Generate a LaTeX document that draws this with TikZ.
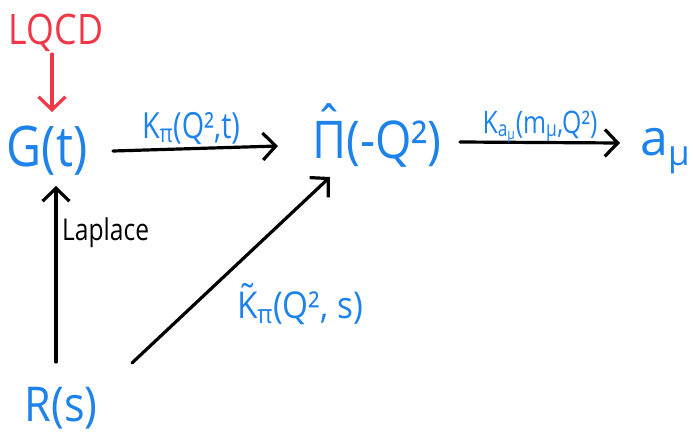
\documentclass[tikz,border=0pt]{standalone}
\usepackage{fontspec}
\usepackage{graphicx}
\setmainfont{Open Sans}
\usetikzlibrary{arrows.meta}
\definecolor{hblue}{RGB}{30,130,235}
\definecolor{hred}{RGB}{240,55,70}
\newcommand\accOver[3]{\leavevmode\setbox0\hbox{#2}\rlap{\hbox to\wd0{\hss\raisebox{#3}{#1}\hss}}#2}
\newcommand\sqz[2]{\scalebox{#1}[1]{#2}}
\tikzset{
  txt/.style={inner sep=0pt, anchor=base},
  bl/.style={txt, text=hblue},
  barb/.style={-{Straight Barb[length=13pt,width=27pt,line width=3.2pt]}},
  harrow/.style={draw=black, line width=3.2pt, line cap=round, barb},
  rarrow/.style={draw=hred, line width=3.2pt, line cap=round, barb}
}
\begin{document}
\begin{tikzpicture}[x=1pt,y=-1pt]
\useasboundingbox[fill=white] (0,0) rectangle (693,434);
\node[txt, text=hred, font=\fontsize{42}{42}\selectfont] (lqcd) at (56,44) {\sqz{0.85}{LQCD}};
\node[bl, font=\fontsize{56}{56}\selectfont] (G) at (47,166) {\sqz{0.86}{G(t)}};
\node[bl, font=\fontsize{52}{52}\selectfont] (Pi) at (377,158) {\sqz{0.9}{\accOver{ˆ}{Π}{0.28em}(-Q²)}};
\node[bl, anchor=base west, font=\fontsize{50}{50}\selectfont] (amu) at (640,155) {a\textsubscript{μ}};
\node[bl, font=\fontsize{48}{48}\selectfont] (R) at (61,421) {\sqz{0.9}{R(s)}};
\coordinate (r1) at (52,54);
\coordinate (r2) at (52,112);
\draw[rarrow] (r1) -- (r2);
\coordinate (a1s) at (113,151);
\coordinate (a1e) at (278,146);
\draw[harrow] (a1s) -- (a1e);
\node[bl, font=\fontsize{36}{36}\selectfont] (l1) at (191,138) {\sqz{0.8}{K\textsubscript{π}(Q²,t)}};
\coordinate (a2s) at (460,142);
\coordinate (a2e) at (620,143);
\draw[harrow] (a2s) -- (a2e);
\node[bl, font=\fontsize{31}{31}\selectfont] (l2) at (540,133) {\sqz{0.8}{K\textsubscript{a\textsubscript{μ}}(m\textsubscript{μ},Q²)}};
\coordinate (a3s) at (56,362);
\coordinate (a3e) at (56,186);
\draw[harrow] (a3s) -- (a3e);
\node[txt, anchor=base west, text=black, font=\fontsize{30}{30}\selectfont] (lap) at (62,240) {\sqz{0.82}{Laplace}};
\coordinate (a4s) at (132,363);
\coordinate (a4e) at (330,177);
\draw[harrow] (a4s) -- (a4e);
\node[bl, font=\fontsize{37}{37}\selectfont] (l4) at (300,318) {\sqz{0.9}{\accOver{˜}{K}{0.2em}\textsubscript{π}(Q², s)}};
\end{tikzpicture}
\end{document}
